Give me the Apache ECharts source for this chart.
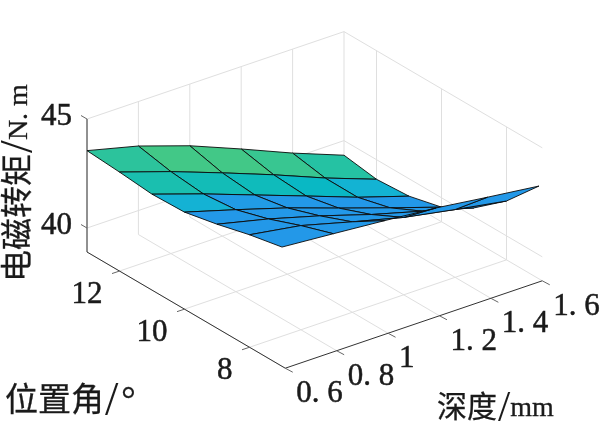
<!DOCTYPE html>
<html><head><meta charset="utf-8">
<style>html,body{margin:0;padding:0;background:#fff}#c{width:600px;height:423px}</style>
<script src="https://cdn.jsdelivr.net/npm/echarts@6/dist/echarts.min.js"></script>
</head><body><div id="c"></div>
<script>
// ---- data ----
var depths = [0.6, 0.8, 1.0, 1.2, 1.4, 1.6];
var angles = [13, 12, 11, 10, 9, 8, 7];
var torque = [
  [43.55, 42.96, 42.17, 41.22, 40.23, 39.33],
  [43.44, 42.66, 41.80, 40.91, 39.96, 39.10],
  [43.30, 42.51, 41.66, 40.81, 39.95, 39.20],
  [43.35, 42.66, 41.94, 41.13, 40.34, 39.57],
  [43.67, 43.11, 42.45, 41.71, 41.06, 40.41],
  [44.06, 43.68, 43.05, 42.45, 42.01, 41.60],
  [44.37, 44.18, 43.98, 43.76, 43.45, 43.16]
];
var colorLevels = [
  [0.85, 1.00, 1.00, 0.93, 0.80],
  [0.70, 0.62, 0.58, 0.48, 0.27],
  [0.25, 0.03, 0.00, 0.00, 0.00],
  [0.00, 0.00, 0.00, 0.00, 0.00],
  [0.00, 0.00, 0.00, 0.00, 0.00],
  [0.00, 0.00, 0.00, 0.00, 0.00]
];
var depthTicks = [0.6, 0.8, 1, 1.2, 1.4, 1.6];
var depthTickLabels = ['0. 6', '0. 8', '1', '1. 2', '1. 4', '1. 6'];
var angleTicks = [8, 10, 12];
var angleTickLabels = ['8', '10', '12'];
var torqueTicks = [40, 45];
var torqueTickLabels = ['40', '45'];
var depthRange = [0.6, 1.6];
var angleRange = [6.9, 13];
var torqueRange = [38.9, 45];

// ---- styles and view ----
var palette = ['#2398e8', '#14b2d4', '#08b9c3', '#1ec0aa', '#42c887'];
var FONT = '"Liberation Serif","Noto Sans CJK SC",serif';
var GRID = '#dfdfdf', AXIS = '#333333', INK = '#1a1a1a';
var view = {ox: 87, oy: 252, dxX: 257, dxY: -87.4, ayX: 32.5, ayY: 19.05, zY: 21.8};

function project(x, y, z) {
  var u = (x - depthRange[0]) / (depthRange[1] - depthRange[0]);
  var v = angleRange[1] - y;
  return [view.ox + u * view.dxX + v * view.ayX,
          view.oy + u * view.dxY + v * view.ayY - (z - torqueRange[0]) * view.zY];
}

// ---- line segments ----
var gridSegs = [], axisSegs = [];
var xMin = depthRange[0], xMax = depthRange[1], yMin = angleRange[0], yMax = angleRange[1], zMin = torqueRange[0], zMax = torqueRange[1];
depthTicks.forEach(function (t) {
  gridSegs.push([t, yMin, zMin, t, yMax, zMin]);
  gridSegs.push([t, yMax, zMin, t, yMax, zMax]);
});
angleTicks.forEach(function (t) {
  gridSegs.push([xMin, t, zMin, xMax, t, zMin]);
  gridSegs.push([xMax, t, zMin, xMax, t, zMax]);
});
torqueTicks.forEach(function (t) {
  gridSegs.push([xMin, yMax, t, xMax, yMax, t]);
  gridSegs.push([xMax, yMax, t, xMax, yMin, t]);
});
axisSegs.push([xMin, yMax, zMin, xMin, yMax, zMax]);
axisSegs.push([xMin, yMax, zMin, xMin, yMin, zMin]);
axisSegs.push([xMin, yMin, zMin, xMax, yMin, zMin]);

// ---- surface cells, back to front ----
var cells = [];
for (var r = 0; r < angles.length - 1; r++) {
  for (var c = depths.length - 2; c >= 0; c--) {
    cells.push([r, c]);
  }
}

// ---- labels ----
var labels = [];
depthTicks.forEach(function (t, i) {
  labels.push({p: [t, yMin, zMin], text: depthTickLabels[i], dx: 11, dy: 26, align: 'left', size: 31});
});
angleTicks.forEach(function (t, i) {
  labels.push({p: [xMin, t, zMin], text: angleTickLabels[i], dx: -17, dy: 24, align: 'right', size: 31});
});
torqueTicks.forEach(function (t, i) {
  labels.push({p: [xMin, yMax, t], text: torqueTickLabels[i], dx: -15, dy: -2, align: 'right', size: 31});
});

function lineSeries(segs, color, z) {
  return {
    type: 'custom', coordinateSystem: 'cartesian2d', silent: true, clip: false, z: z,
    data: segs.map(function (s, i) { return [i]; }),
    renderItem: function (p, api) {
      var s = segs[p.dataIndex];
      var a = api.coord(project(s[0], s[1], s[2]));
      var b = api.coord(project(s[3], s[4], s[5]));
      return {type: 'line', shape: {x1: a[0], y1: a[1], x2: b[0], y2: b[1]},
              style: {stroke: color, lineWidth: 1, fill: null}};
    }
  };
}

function tickSeries() {
  var ticks = [];
  depthTicks.forEach(function (t) { ticks.push({p: [t, yMin, zMin], dx: 7.5, dy: 4}); });
  angleTicks.forEach(function (t) { ticks.push({p: [xMin, t, zMin], dx: -7.5, dy: 2.5}); });
  torqueTicks.forEach(function (t) { ticks.push({p: [xMin, yMax, t], dx: -6, dy: -3.5}); });
  return {
    type: 'custom', coordinateSystem: 'cartesian2d', silent: true, clip: false, z: 3,
    data: ticks.map(function (s, i) { return [i]; }),
    renderItem: function (p, api) {
      var s = ticks[p.dataIndex];
      var a = api.coord(project(s.p[0], s.p[1], s.p[2]));
      return {type: 'line', shape: {x1: a[0], y1: a[1], x2: a[0] + s.dx, y2: a[1] + s.dy},
              style: {stroke: '#666666', lineWidth: 1, fill: null}};
    }
  };
}

function titleRich(size, unitSize, unitPad) {
  return {
    t: {font: size + 'px ' + FONT, fill: INK, stroke: INK, lineWidth: 0.3},
    s: {font: Math.round(size * 1.45) + 'px ' + FONT, fill: INK, padding: [0, unitPad, 0, 1]},
    u: {font: unitSize + 'px ' + FONT, fill: INK, stroke: INK, lineWidth: 0.3}
  };
}

var chart = echarts.init(document.getElementById('c'), null, {renderer: 'canvas'});
chart.setOption({
  animation: false,
  backgroundColor: '#ffffff',
  grid: {left: 0, right: 0, top: 0, bottom: 0},
  xAxis: {type: 'value', min: 0, max: 600, show: false},
  yAxis: {type: 'value', min: 0, max: 423, inverse: true, show: false},
  series: [
    lineSeries(gridSegs, GRID, 1),
    lineSeries(axisSegs, AXIS, 2),
    tickSeries(),
    {
      type: 'custom', coordinateSystem: 'cartesian2d', silent: true, clip: false, z: 4,
      data: cells,
      renderItem: function (p, api) {
        var cell = cells[p.dataIndex], r = cell[0], c = cell[1];
        var pts = [[r, c], [r, c + 1], [r + 1, c + 1], [r + 1, c]].map(function (q) {
          return api.coord(project(depths[q[1]], angles[q[0]], torque[q[0]][q[1]]));
        });
        return {type: 'polygon', shape: {points: pts},
                style: {fill: echarts.color.lerp(colorLevels[r][c], palette), stroke: '#0a0a0a', lineWidth: 0.9}};
      }
    },
    {
      type: 'custom', coordinateSystem: 'cartesian2d', silent: true, clip: false, z: 5,
      data: labels.map(function (l, i) { return [i]; }),
      renderItem: function (p, api) {
        var l = labels[p.dataIndex];
        var a = api.coord(project(l.p[0], l.p[1], l.p[2]));
        return {type: 'text', x: a[0] + l.dx, y: a[1] + l.dy,
                style: {text: l.text, fill: INK, stroke: INK, lineWidth: 0.5, font: l.size + 'px ' + FONT, textAlign: l.align, textVerticalAlign: 'middle'}};
      }
    }
  ],
  graphic: [
    {type: 'text', x: 5, y: 402,
     style: {text: '{t|位置角}{s|/}{u|°}', rich: titleRich(33, 36, 3), textAlign: 'left', textVerticalAlign: 'middle'}},
    {type: 'text', x: 437, y: 409,
     style: {text: '{t|深度}{s|/}{u|mm}', rich: titleRich(30, 28, 0), textAlign: 'left', textVerticalAlign: 'middle'}},
    {type: 'text', x: 20, y: 183, rotation: Math.PI / 2,
     style: {text: '{t|电磁转矩}{s|/}{u|N. m}', rich: titleRich(32, 28, 0), textAlign: 'center', textVerticalAlign: 'middle'}}
  ]
});
</script></body></html>
